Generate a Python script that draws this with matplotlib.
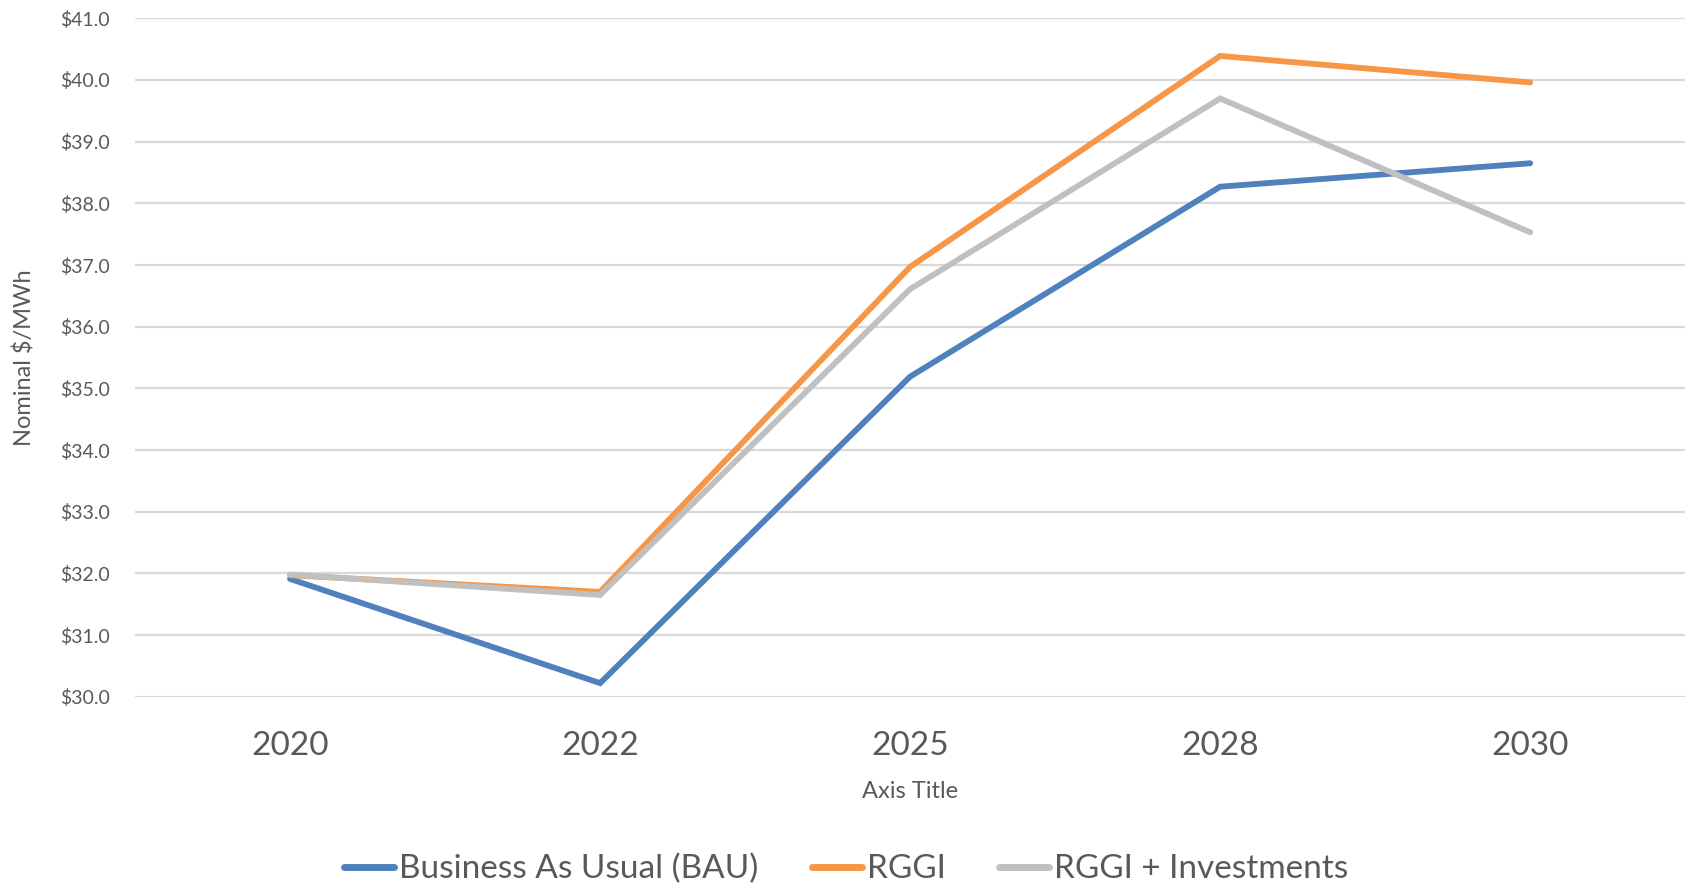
import matplotlib
matplotlib.use("Agg")
import matplotlib.pyplot as plt
from matplotlib.ticker import FuncFormatter

# data
years = ["2020", "2022", "2025", "2028", "2030"]
bau = [31.91, 30.22, 35.19, 38.27, 38.65]
rggi = [31.97, 31.70, 36.97, 40.39, 39.96]
rggi_inv = [31.98, 31.65, 36.61, 39.70, 37.53]

series_names = ["Business As Usual (BAU)", "RGGI", "RGGI + Investments"]
colors = ["#4F81BD", "#F79646", "#C0C0C0"]
text_col = "#595959"

plt.rcParams["font.family"] = ["Lato", "DejaVu Sans"]

fig = plt.figure(figsize=(16.92, 8.89), dpi=100)
ax = fig.add_axes((0.0798, 0.2163, 0.9162, 0.7631))

x = range(len(years))
for vals, name, c in zip([bau, rggi, rggi_inv], series_names, colors):
    ax.plot(x, vals, color=c, lw=4.2, label=name, solid_capstyle="round",
            solid_joinstyle="miter")

ax.set_xlim(-0.5, len(years) - 0.5)
ax.set_ylim(30, 41)
ax.set_yticks(range(30, 42))
ax.yaxis.set_major_formatter(FuncFormatter(lambda v, p: f"${v:.1f}"))
ax.set_xticks(list(x))
ax.set_xticklabels(years)

ax.grid(axis="y", color="#D9D9D9", lw=1.6)
ax.set_axisbelow(True)
for s in ax.spines.values():
    s.set_visible(False)
ax.tick_params(axis="both", length=0)
ax.tick_params(axis="y", labelsize=14, labelcolor=text_col, pad=18)
ax.tick_params(axis="x", labelsize=24, labelcolor=text_col, pad=25)

ax.set_ylabel("Nominal $/MWh", fontsize=17, color=text_col)
ax.yaxis.set_label_coords(-0.064, 0.5)
ax.set_xlabel("Axis Title", fontsize=17, color=text_col, va="center")
ax.xaxis.set_label_coords(0.5, -0.139)

leg = fig.legend(loc="center", bbox_to_anchor=(0.5, 0.0225), ncol=3,
                 frameon=False, fontsize=24, handlelength=1.5,
                 handletextpad=0.15, columnspacing=1.6, labelcolor=text_col)
for line in leg.get_lines():
    line.set_linewidth(5)

fig.savefig("out.png", dpi=100)
